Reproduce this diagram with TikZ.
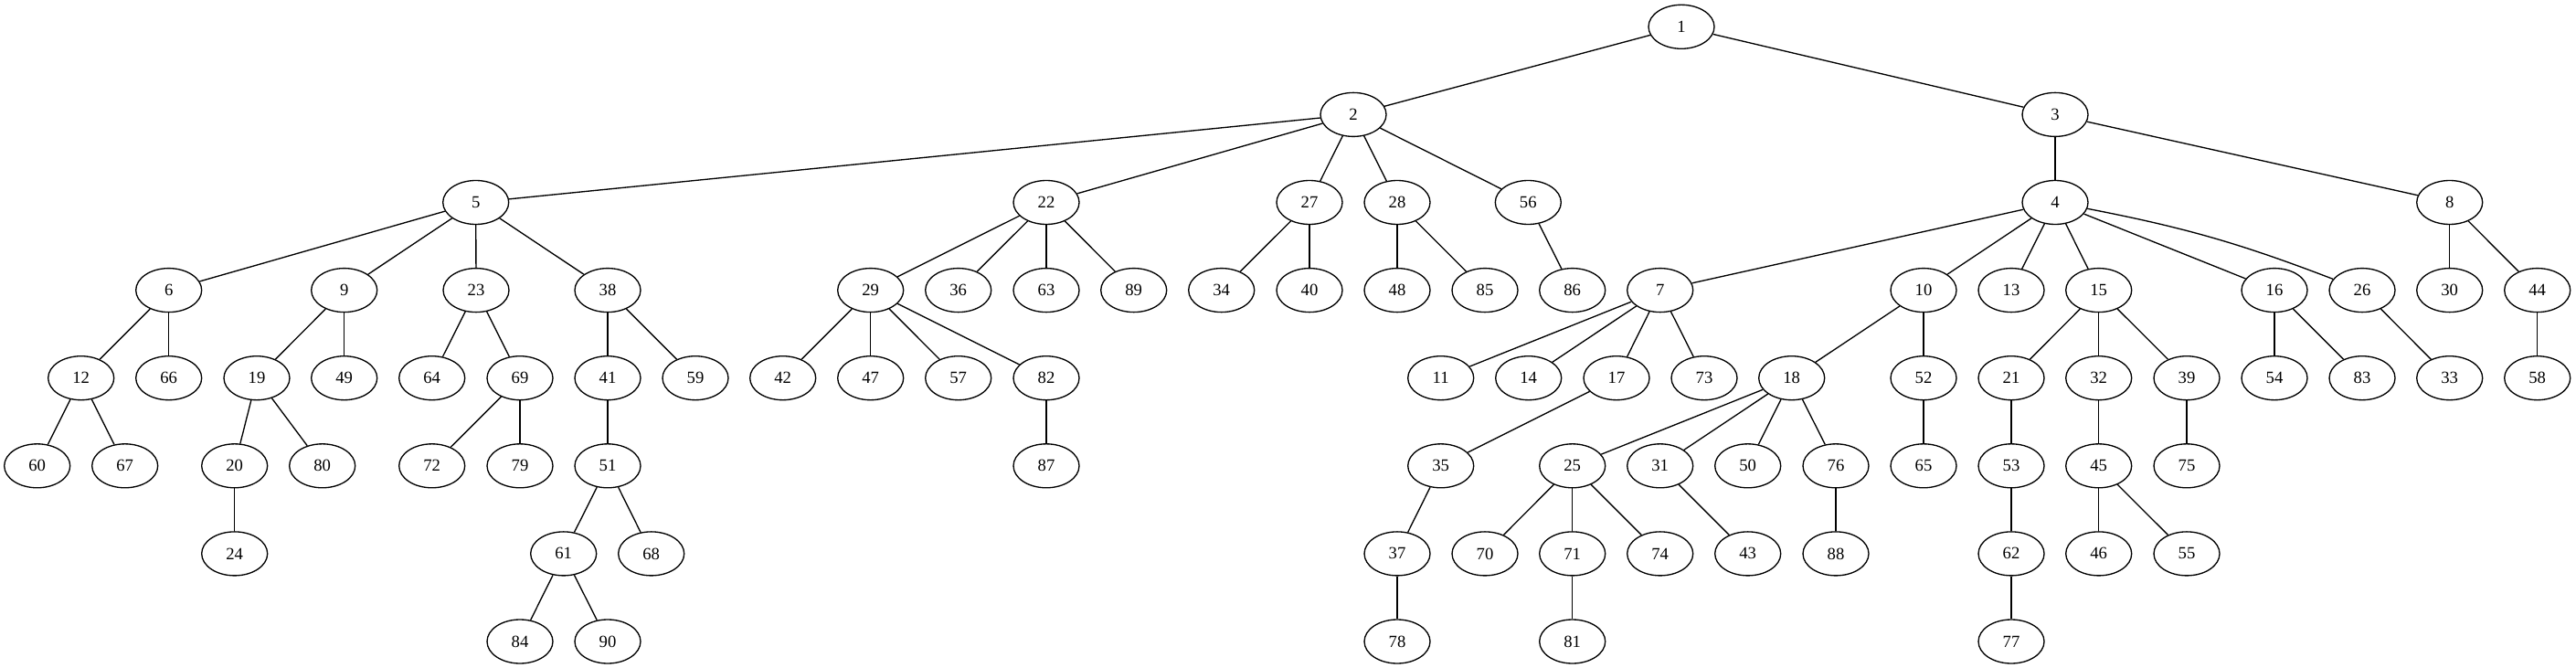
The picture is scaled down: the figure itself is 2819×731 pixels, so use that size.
\documentclass[tikz,border=0pt]{standalone}
\usepackage{fontspec}
\setmainfont{Liberation Serif}
\usetikzlibrary{shapes.geometric}
\begin{document}
\begin{tikzpicture}[x=0.75pt,y=0.75pt,
  nd/.style={draw, ellipse, line width=1pt, minimum width=54pt, minimum height=36pt, inner sep=0pt,
    font=\fontsize{14pt}{16pt}\selectfont},
  edge/.style={line width=1pt}]
\useasboundingbox (0,0) rectangle (2819,-731);
% row 0
\node[nd] (n1) at (1840,-29.3) {1};
% row 1
\foreach \n/\x in {2/1481,3/2249}
  \node[nd] (n\n) at (\x,-125.4) {\n};
% row 2
\foreach \n/\x in {5/520.7,22/1145,27/1433,28/1529,56/1672.3,4/2249,8/2680.7}
  \node[nd] (n\n) at (\x,-221.5) {\n};
% row 3
\foreach \n/\x in {6/184.7,9/376.7,23/521,38/665,29/952.7,36/1048.7,63/1145,89/1240.7,34/1336.7,40/1433,48/1529,85/1625,86/1720.7,7/1816.7,10/2105,13/2201,15/2296.7,16/2489,26/2585,30/2680.7,44/2776.7}
  \node[nd] (n\n) at (\x,-317.6) {\n};
% row 4
\foreach \n/\x in {12/88.7,66/184.7,19/281,49/376.7,64/472.7,69/569,41/665,59/761,42/856.7,47/952.7,57/1048.7,82/1145,11/1576.7,14/1672.7,17/1769,73/1865,18/1960.7,52/2105,21/2201,32/2296.7,39/2393,54/2489,83/2585,33/2680.7,58/2776.7}
  \node[nd] (n\n) at (\x,-413.7) {\n};
% row 5
\foreach \n/\x in {60/40.7,67/136.7,20/256.7,80/352.7,72/472.7,79/569,51/665,87/1145,35/1576.7,25/1720.7,31/1816.7,50/1912.7,76/2009,65/2105,53/2201,45/2296.7,75/2393}
  \node[nd] (n\n) at (\x,-509.8) {\n};
% row 6
\foreach \n/\x in {24/256.7,61/616.7,68/712.7,37/1529,70/1625,71/1720.7,74/1816.7,43/1912.7,88/2009,62/2201,46/2296.7,55/2393}
  \node[nd] (n\n) at (\x,-605.9) {\n};
% row 7
\foreach \n/\x in {84/569,90/665,78/1529,81/1720.7,77/2201}
  \node[nd] (n\n) at (\x,-702) {\n};
% edges
\foreach \a/\b in {1/2,1/3,2/5,2/22,2/27,2/28,2/56,3/4,3/8,
  5/6,5/9,5/23,5/38,22/29,22/36,22/63,22/89,27/34,27/40,28/48,28/85,56/86,
  4/7,4/10,4/13,4/15,4/16,8/30,8/44,
  6/12,6/66,9/19,9/49,23/64,23/69,38/41,38/59,29/42,29/47,29/57,29/82,
  7/11,7/14,7/17,7/73,10/18,10/52,15/21,15/32,15/39,16/54,16/83,26/33,44/58,
  12/60,12/67,19/20,19/80,69/72,69/79,41/51,82/87,17/35,
  18/25,18/31,18/50,18/76,52/65,21/53,32/45,39/75,
  20/24,51/61,51/68,35/37,25/70,25/71,25/74,31/43,76/88,53/62,45/46,45/55,
  61/84,61/90,37/78,71/81,62/77}
  \draw[edge] (n\a) -- (n\b);
\draw[edge] (n4) to[bend left=5] (n26);
\end{tikzpicture}
\end{document}
